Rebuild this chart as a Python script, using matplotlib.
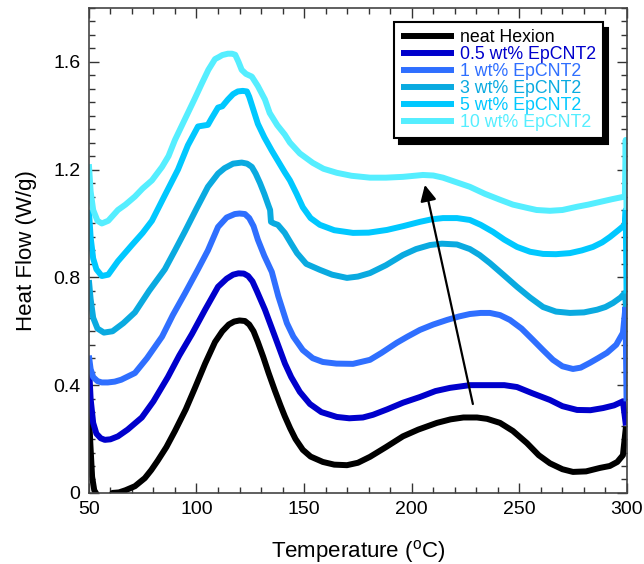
import matplotlib
matplotlib.use("Agg")
import matplotlib.pyplot as plt
from matplotlib.ticker import MultipleLocator

plt.rcParams['font.family'] = ['Liberation Sans', 'DejaVu Sans']
plt.rcParams['mathtext.fontset'] = 'custom'
plt.rcParams['mathtext.rm'] = 'Liberation Sans'

labels = ['neat Hexion', '0.5 wt% EpCNT2', '1 wt% EpCNT2', '3 wt% EpCNT2',
          '5 wt% EpCNT2', '10 wt% EpCNT2']
colors = ['#000000', '#0000CC', '#2F6FFF', '#0AAAE0', '#00C8FF', '#55EEFF']

neat_T = [50, 50.7, 51.5, 52.5, 54, 56, 59, 61, 64, 67, 71.4, 76, 79, 82, 86, 90, 95, 99.3,
          104, 108.6, 112, 115, 117.5, 120, 122.5, 124.5, 126.5, 128.5, 131, 133.5, 136.4,
          139, 141, 143.5, 146, 149.4, 153, 158.7, 164, 169.9, 175, 180.6, 188, 195.9, 203,
          211.7, 218, 224, 230.3, 235, 241, 247, 253.5, 259, 264.2, 270, 274.9, 281, 287.5,
          292, 295.5, 298.1, 299.5]
neat_Y = [0.30, 0.18, 0.06, 0.01, -0.01, -0.03, -0.025, 0.0, 0.002, 0.01, 0.025, 0.055,
          0.085, 0.12, 0.17, 0.23, 0.31, 0.39, 0.48, 0.56, 0.60, 0.625, 0.636, 0.64, 0.638,
          0.625, 0.60, 0.56, 0.505, 0.445, 0.38, 0.325, 0.285, 0.24, 0.20, 0.16, 0.135,
          0.115, 0.105, 0.103, 0.112, 0.134, 0.17, 0.21, 0.235, 0.26, 0.273, 0.28, 0.28,
          0.275, 0.26, 0.23, 0.185, 0.14, 0.11, 0.088, 0.078, 0.08, 0.093, 0.10, 0.115,
          0.14, 0.245]

w05_T = [50, 50.8, 52, 53.5, 55.5, 57.4, 60, 63.5, 68, 74.6, 80, 86.7, 92, 97.9, 104, 110,
         114, 117, 119.5, 122, 124, 126, 128, 131.8, 136, 141.1, 144, 148, 152.7, 158, 165.2,
         171, 177.3, 182, 188.5, 196, 203.8, 211, 217.8, 227, 236.3, 243, 248.9, 256, 264.2,
         270, 276.8, 283, 288.9, 294, 298.1, 299.5]
w05_Y = [0.48, 0.35, 0.26, 0.22, 0.203, 0.197, 0.199, 0.21, 0.235, 0.28, 0.34, 0.43, 0.51,
         0.59, 0.68, 0.765, 0.795, 0.81, 0.815, 0.814, 0.805, 0.785, 0.75, 0.68, 0.59, 0.48,
         0.43, 0.375, 0.33, 0.30, 0.282, 0.277, 0.28, 0.29, 0.31, 0.335, 0.356, 0.378,
         0.39, 0.40, 0.40, 0.40, 0.393, 0.37, 0.345, 0.322, 0.308, 0.307, 0.315, 0.325,
         0.34, 0.25]

w1_T = [50, 50.8, 52, 54, 56, 58.8, 62, 65, 71.4, 77, 84, 89, 94.6, 100.7, 105.3, 110, 114,
        117.8, 120, 122.5, 124.5, 126.5, 128.5, 131.5, 135, 138, 142, 145, 149.4, 154, 158.7,
        165, 172.7, 180.6, 186, 193, 198, 203.8, 210, 216.4, 222, 227, 232, 236.3, 241,
        245.6, 251, 256.3, 261, 265.6, 270, 274.9, 278.5, 282.8, 286.5, 290.7, 295, 298.1,
        299.3, 299.8]
w1_Y = [0.51, 0.46, 0.43, 0.415, 0.41, 0.41, 0.413, 0.42, 0.445, 0.50, 0.58, 0.66, 0.74,
        0.83, 0.90, 0.987, 1.022, 1.035, 1.037, 1.035, 1.02, 0.99, 0.94, 0.88, 0.82, 0.73,
        0.63, 0.58, 0.53, 0.50, 0.486, 0.48, 0.479, 0.494, 0.52, 0.557, 0.58, 0.605, 0.625,
        0.642, 0.655, 0.664, 0.668, 0.668, 0.66, 0.642, 0.61, 0.568, 0.53, 0.494, 0.47,
        0.46, 0.465, 0.483, 0.50, 0.52, 0.55, 0.594, 0.69, 0.34]

w3_T = [50, 50.8, 52, 54, 57, 61, 66, 71.4, 78, 85.3, 90, 94.6, 100, 105.3, 110, 113, 117,
        121, 123.5, 125.7, 127.5, 129.5, 131.5, 133.5, 134.2, 134.6, 136, 137.8, 141, 144,
        146.7, 151, 157.3, 163, 169.9, 175, 180.6, 188, 195.9, 202, 208.5, 214, 221, 227,
        231.5, 236.3, 242.5, 248.9, 255, 261, 267, 273.5, 280, 286.1, 290, 293.5, 297, 299,
        299.6]
w3_Y = [0.79, 0.72, 0.65, 0.61, 0.595, 0.60, 0.63, 0.67, 0.75, 0.83, 0.90, 0.97, 1.055,
        1.136, 1.185, 1.205, 1.222, 1.226, 1.222, 1.21, 1.185, 1.15, 1.11, 1.065, 1.05,
        1.006, 1.0, 0.995, 0.965, 0.925, 0.89, 0.85, 0.828, 0.81, 0.798, 0.803, 0.816,
        0.845, 0.883, 0.905, 0.92, 0.925, 0.922, 0.905, 0.883, 0.853, 0.81, 0.765, 0.725,
        0.69, 0.673, 0.668, 0.67, 0.68, 0.69, 0.705, 0.725, 0.742, 0.69]

w5_T = [50, 50.8, 52, 53.5, 56, 59, 63.5, 70, 75, 79.3, 85, 91.4, 96, 100.7, 103, 105.3, 107,
        110, 112, 114.6, 117, 119.2, 121.5, 123.4, 124.5, 126.5, 128.5, 131.5, 135, 138, 141,
        143.4, 146.5, 149.4, 153, 157.3, 164, 172.7, 180, 188.5, 196, 203.8, 209, 214.5, 221,
        227, 232, 237.7, 243, 248.9, 255, 261, 267, 273.5, 279, 284.2, 288.5, 292.1, 296,
        299, 299.4, 299.8]
w5_Y = [1.05, 0.95, 0.87, 0.83, 0.805, 0.81, 0.86, 0.92, 0.965, 1.01, 1.10, 1.20, 1.29,
        1.36, 1.363, 1.366, 1.39, 1.43, 1.435, 1.46, 1.48, 1.49, 1.492, 1.49, 1.47, 1.42,
        1.37, 1.32, 1.27, 1.23, 1.19, 1.16, 1.11, 1.06, 1.02, 0.995, 0.975, 0.965, 0.966,
        0.976, 0.99, 1.006, 1.015, 1.02, 1.02, 1.013, 0.995, 0.969, 0.94, 0.913, 0.895,
        0.887, 0.886, 0.89, 0.9, 0.913, 0.93, 0.95, 0.975, 0.995, 1.05, 0.74]

w10_T = [50, 50.8, 52, 54, 56, 59, 63.5, 67, 71.4, 75, 79.3, 84, 87, 90, 93, 96, 99, 102.5,
         105.5, 108.6, 110.5, 112, 114.6, 116.5, 118, 119.5, 121, 123, 125.7, 128.5, 131.8,
         134, 137.5, 141, 143.4, 148, 154, 159, 165.2, 172, 180.6, 188, 195.9, 205.2, 210,
         214.5, 220, 227, 234, 241, 247, 253.5, 258, 264.2, 270, 276.8, 282, 287.5, 293, 299,
         299.4, 299.8]
w10_Y = [1.22, 1.12, 1.05, 1.01, 1.0, 1.01, 1.05, 1.07, 1.10, 1.13, 1.16, 1.21, 1.25, 1.31,
         1.36, 1.41, 1.46, 1.52, 1.57, 1.61, 1.618, 1.625, 1.63, 1.63, 1.626, 1.60, 1.57,
         1.555, 1.545, 1.51, 1.46, 1.41, 1.365, 1.33, 1.30, 1.26, 1.225, 1.203, 1.188,
         1.177, 1.17, 1.17, 1.173, 1.18, 1.178, 1.17, 1.155, 1.136, 1.11, 1.088, 1.07,
         1.058, 1.05, 1.047, 1.05, 1.062, 1.07, 1.08, 1.09, 1.10, 1.31, 1.05]

series_T = [neat_T, w05_T, w1_T, w3_T, w5_T, w10_T]
series_Y = [neat_Y, w05_Y, w1_Y, w3_Y, w5_Y, w10_Y]

xticks = [50, 100, 150, 200, 250, 300]
yticks = [0, 0.4, 0.8, 1.2, 1.6]
ytick_labels = ['0', '0.4', '0.8', '1.2', '1.6']

arrow_tail = (228.4, 0.33)
arrow_head = (206.1, 1.143)

fig = plt.figure(figsize=(6.44, 5.64), dpi=100)
ax = fig.add_axes([0.138, 0.126, 0.8356, 0.86])

for T, Y, c, lab in zip(series_T, series_Y, colors, labels):
    ax.plot(T, Y, color=c, lw=4.3, label=lab, solid_capstyle='butt',
            solid_joinstyle='round')

ax.annotate('', xy=arrow_head, xytext=arrow_tail,
            arrowprops=dict(arrowstyle='-|>', color='k', lw=1.6,
                            mutation_scale=24, shrinkA=0, shrinkB=0))

ax.set_xlim(50, 300)
ax.set_ylim(0, 1.8)
ax.set_xticks(xticks)
ax.set_yticks(yticks)
ax.set_yticklabels(ytick_labels)
ax.xaxis.set_minor_locator(MultipleLocator(10))
ax.yaxis.set_minor_locator(MultipleLocator(0.05))
ax.tick_params(which='both', direction='in', top=True, right=True,
               labelsize=14, colors='#333333', labelcolor='black')
ax.tick_params(which='major', length=7, width=1, pad=6)
ax.tick_params(which='minor', length=4, width=1)
for s in ax.spines.values():
    s.set_color('#444444')
    s.set_linewidth(1.2)

ax.set_xlabel(r'Temperature ($^{\rm o}$C)', fontsize=16, labelpad=14)
ax.set_ylabel('Heat Flow (W/g)', fontsize=16, labelpad=12)

leg = ax.legend(loc='upper right', bbox_to_anchor=(0.955, 0.971), fontsize=12.8,
                handlelength=3.0, handletextpad=0.3, labelspacing=0.0,
                borderpad=0.4, fancybox=False, frameon=True, borderaxespad=0,
                shadow={'color': 'black', 'alpha': 1.0, 'ox': 4, 'oy': -4})
leg.get_frame().set_edgecolor('black')
leg.get_frame().set_linewidth(1.5)
for txt, c in zip(leg.get_texts(), colors):
    txt.set_color(c)
for ln in leg.get_lines():
    ln.set_linewidth(4.3)

fig.savefig('out.png', dpi=100)
